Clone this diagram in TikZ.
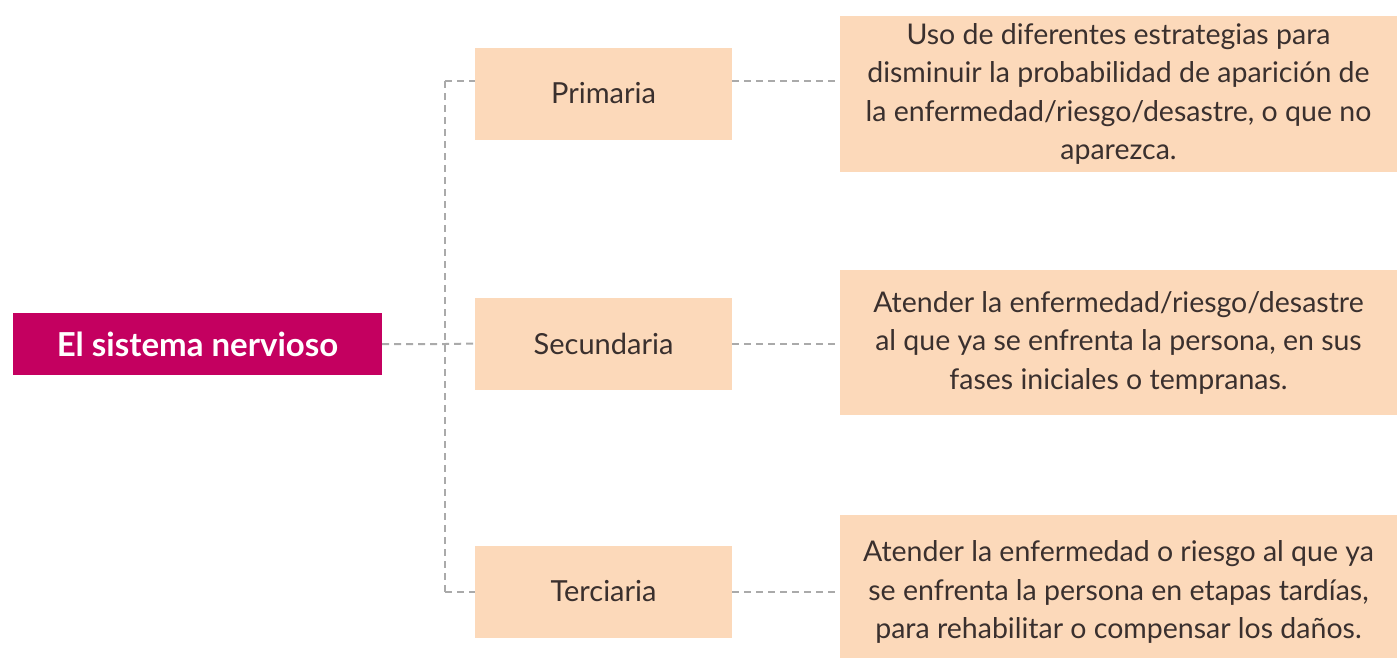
\documentclass[tikz,border=0pt]{standalone}
\usepackage{fontspec}
\setmainfont{Lato}
\definecolor{magentabox}{RGB}{196,0,96}
\definecolor{peach}{RGB}{252,217,186}
\definecolor{dashgray}{RGB}{170,170,170}
\definecolor{txt}{RGB}{58,48,46}
\begin{document}
\begin{tikzpicture}[x=1pt,y=-1pt,
  mainbox/.style={fill=magentabox,text=white,minimum width=369pt,minimum height=62pt,inner sep=0pt,font=\fontsize{33}{38}\selectfont\bfseries},
  levelbox/.style={fill=peach,text=txt,minimum width=257pt,minimum height=92pt,inner sep=0pt,font=\fontsize{29}{34}\selectfont},
  descbox/.style={fill=peach,text=txt,minimum width=557pt,inner sep=0pt,align=center,font=\fontsize{28.5}{38.5}\selectfont},
  conn/.style={draw=dashgray,line width=2pt,dash pattern=on 7pt off 5pt}]
\useasboundingbox (0,0) rectangle (1399,657);
\node[mainbox] (main) at (197.5,344) {El sistema nervioso};
\node[levelbox] (prim) at (603.5,93.5) {Primaria};
\node[levelbox] (sec) at (603.5,343.5) {Secundaria};
\node[levelbox] (ter) at (603.5,591.5) {Terciaria};
\node[descbox,minimum height=156pt] (r1) at (1118.5,94) {Uso de diferentes estrategias para\\disminuir la probabilidad de aparición de\\la enfermedad/riesgo/desastre, o que no\\aparezca.};
\node[descbox,minimum height=145pt] (r2) at (1118.5,342.5) {Atender la enfermedad/riesgo/desastre\\al que ya se enfrenta la persona, en sus\\fases iniciales o tempranas.};
\node[descbox,minimum height=154pt] (r3) at (1118.5,592) {Atender la enfermedad o riesgo al que ya\\se enfrenta la persona en etapas tardías,\\para rehabilitar o compensar los daños.};
\coordinate (j1) at (445,81);
\coordinate (j2) at (445,344);
\coordinate (j3) at (445,592);
\draw[conn] (j1) -- (j3);
\draw[conn] (main.east) -- (j2) -- (sec.west);
\draw[conn] (j1) -- (prim.west |- j1);
\draw[conn] (j3) -- (ter.west |- j3);
\draw[conn] (prim.east |- j1) -- (r1.west |- j1);
\draw[conn] (sec.east) -- (r2.west |- sec.east);
\draw[conn] (ter.east |- j3) -- (r3.west |- j3);
\end{tikzpicture}
\end{document}
